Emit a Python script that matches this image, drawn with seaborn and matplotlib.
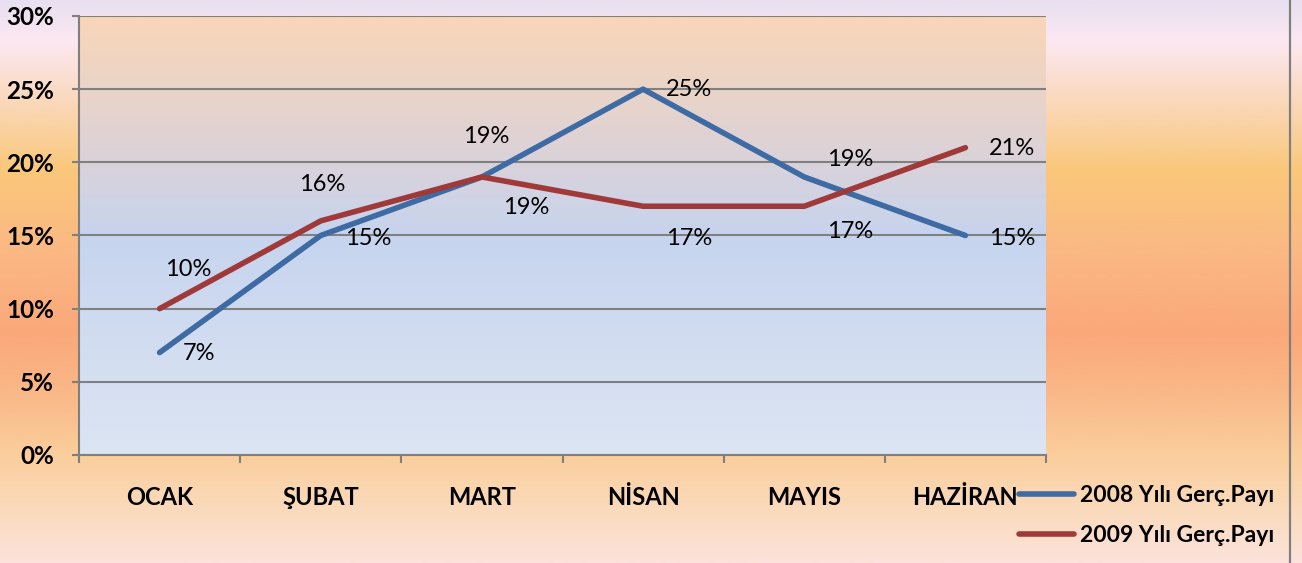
import numpy as np
import pandas as pd
import matplotlib
matplotlib.use("Agg")
import matplotlib.pyplot as plt
from matplotlib.colors import LinearSegmentedColormap
from matplotlib.lines import Line2D
import seaborn as sns

# data
months = ["OCAK", "ŞUBAT", "MART", "NİSAN", "MAYIS", "HAZİRAN"]
share_2008 = [0.07, 0.15, 0.19, 0.25, 0.19, 0.15]
share_2009 = [0.10, 0.16, 0.19, 0.17, 0.17, 0.21]
series_names = ["2008 Yılı Gerç.Payı", "2009 Yılı Gerç.Payı"]
y_ticks = [0, 0.05, 0.10, 0.15, 0.20, 0.25, 0.30]

# label offsets in pixels (dx right, dy down)
off_2008 = [(39, 1), (47, 3), (4, -40), (46, 0), (46, -17), (47, 3)]
off_2009 = [(29, -39), (1, -36), (44, 31), (46, 32), (46, 25), (47, 1)]

df = pd.DataFrame({
    "ay": months * 2,
    "pay": share_2008 + share_2009,
    "seri": [series_names[0]] * 6 + [series_names[1]] * 6,
})

plt.rcParams["font.family"] = ["Lato", "DejaVu Sans"]
blue = "#3F6BA5"
red = "#A03A38"
px = 72 / 100  # pixels -> points

fig = plt.figure(figsize=(13.02, 5.63), dpi=100)

# figure background gradient
bg = fig.add_axes([0, 0, 1, 1], zorder=-10)
bg_cmap = LinearSegmentedColormap.from_list("bg", [
    (0.0, "#E8E0F0"), (0.07, "#FDE8F2"), (0.18, "#FAD8BA"),
    (0.30, "#FAC87A"), (0.45, "#FAB884"), (0.59, "#FAA87A"),
    (0.70, "#FAB888"), (0.81, "#FACE9C"), (0.92, "#FBDCC0"),
    (1.0, "#FCE2DA")])
bg.imshow(np.linspace(0, 1, 300).reshape(-1, 1), cmap=bg_cmap, aspect="auto",
          extent=[0, 1, 0, 1], origin="upper")
bg.axis("off")
fig.add_artist(Line2D([1289.5 / 1302] * 2, [0, 1], color="#7F7F7F", lw=1.6))

ax = fig.add_axes([79 / 1302, 1 - 455 / 563, (1046 - 79) / 1302, (455 - 16) / 563])
ax.patch.set_alpha(0)

# plot area gradient
pa_cmap = LinearSegmentedColormap.from_list("pa", [
    (0.0, "#F9D6B8"), (0.17, "#EAD4C8"), (0.33, "#DAD2DA"),
    (0.50, "#C6D4EE"), (0.70, "#CFDBF0"), (1.0, "#DDE5F4")])
ax.imshow(np.linspace(0, 1, 300).reshape(-1, 1), cmap=pa_cmap, aspect="auto",
          extent=[-0.5, 5.5, 0, 0.30], origin="upper", zorder=0)

sns.lineplot(data=df, x="ay", y="pay", hue="seri", palette=[blue, red],
             lw=4, ax=ax, solid_capstyle="round", solid_joinstyle="round",
             zorder=3)
handles, labels = ax.get_legend_handles_labels()
ax.get_legend().remove()

for i, v in enumerate(share_2008):
    dx, dy = off_2008[i]
    ax.annotate(f"{v * 100:.0f}%", (i, v), xytext=(dx * px, -dy * px),
                textcoords="offset points", ha="center", va="center",
                fontsize=17, color="black", zorder=5)
for i, v in enumerate(share_2009):
    dx, dy = off_2009[i]
    ax.annotate(f"{v * 100:.0f}%", (i, v), xytext=(dx * px, -dy * px),
                textcoords="offset points", ha="center", va="center",
                fontsize=17, color="black", zorder=5)

ax.set_xlim(-0.5, 5.5)
ax.set_ylim(0, 0.30)
ax.set_yticks(y_ticks)
ax.set_yticklabels([f"{t * 100:.0f}%" for t in y_ticks], fontsize=17.5,
                   fontweight="bold")
ax.set_xticks(range(len(months)))
ax.set_xticklabels(months, fontsize=17, fontweight="bold")
ax.set_xticks(np.arange(-0.5, 6, 1), minor=True)
ax.tick_params(axis="x", which="major", length=0, pad=22)
ax.tick_params(axis="x", which="minor", length=6, width=1.5, color="#7F7F7F")
ax.tick_params(axis="y", length=5, width=1.5, color="#7F7F7F", pad=13)
ax.set_xlabel("")
ax.set_ylabel("")

ax.set_axisbelow(True)
ax.grid(axis="y", color="#808080", lw=1.5, zorder=1)
ax.grid(axis="x", visible=False)
for s in ["top", "right"]:
    ax.spines[s].set_visible(False)
for s in ["left", "bottom"]:
    ax.spines[s].set_color("#7F7F7F")
    ax.spines[s].set_linewidth(1.5)

for h in handles:
    h.set_solid_capstyle("round")
fig.legend(handles, labels, loc="upper left", bbox_to_anchor=(1019 / 1302, 1 - 485 / 563),
           frameon=False, handlelength=2.4, handletextpad=0.25, borderpad=0,
           borderaxespad=0, labelspacing=0.85,
           prop={"size": 16.5, "weight": "bold"})

fig.savefig("out.png", dpi=100)
